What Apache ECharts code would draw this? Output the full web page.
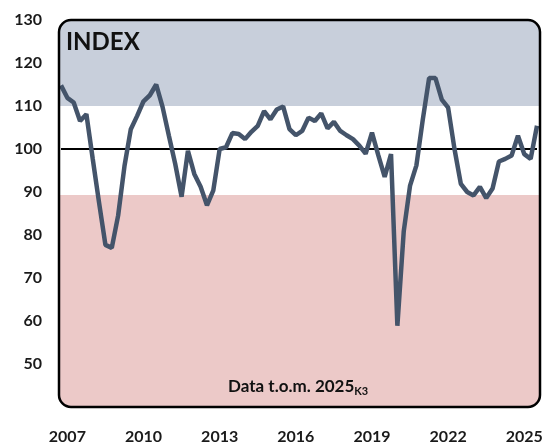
<!DOCTYPE html>
<html>
<head>
<meta charset="utf-8">
<script src="https://cdn.jsdelivr.net/npm/echarts@6/dist/echarts.min.js"></script>
<style>
  html, body { margin: 0; padding: 0; background: #fff; }
  #chart { width: 548px; height: 445px; }
</style>
</head>
<body>
<div id="chart"></div>
<script>
// kvartal 2006K4 .. 2025K3
const quarters = []
for (let y = 2006; y <= 2025; y++) {
    for (let q = 1; q <= 4; q++) {
        if (y === 2006 && q < 4) continue
        if (y === 2025 && q > 3) continue
        quarters.push(y + 'K' + q)
    }
}

const indexValues = [
    114.8, 111.9, 110.8, 106.5, 108.1, 97.7, 87.5, 77.7, 77.0, 84.5,
    96.0, 104.6, 107.7, 111.1, 112.5, 115.0, 109.8, 103.1, 96.5, 88.9,
    99.6, 94.2, 91.2, 86.9, 90.4, 100.0, 100.4, 103.7, 103.5, 102.3,
    104.0, 105.4, 108.8, 106.9, 109.2, 109.9, 104.6, 103.2, 104.2, 107.3,
    106.5, 108.3, 104.8, 106.3, 104.2, 103.2, 102.3, 100.8, 98.9, 103.8,
    98.5, 93.5, 98.8, 58.9, 80.8, 91.5, 96.2, 106.8, 116.5, 116.5,
    111.5, 109.6, 100.0, 91.9, 90.0, 89.2, 91.2, 88.6, 90.8, 97.1,
    97.7, 98.5, 103.1, 98.8, 97.7, 105.4
]

const yTicks = [40, 50, 60, 70, 80, 90, 100, 110, 120, 130]
const labelYears = ['2007', '2010', '2013', '2016', '2019', '2022', '2025']

// zoner
const highLimit = 110
const lowLimit = 89.3

const font = 'Lato, "Open Sans", sans-serif'
const chart = echarts.init(document.getElementById('chart'))

chart.setOption({
    animation: false,
    grid: { left: 61, right: 11, top: 20, bottom: 35 },
    title: [{
        text: 'INDEX',
        left: 66,
        top: 30,
        padding: 0,
        textStyle: { fontFamily: font, fontSize: 24, fontWeight: 'bold', color: '#111' }
    }, {
        text: '{a|Data t.o.m. 2025}{b|K3}',
        left: 228,
        top: 377,
        padding: 0,
        textStyle: {
            rich: {
                a: { fontFamily: font, fontSize: 17, fontWeight: 'bold', color: '#111' },
                b: { fontFamily: font, fontSize: 11, fontWeight: 'bold', color: '#111', padding: [9, 0, 0, 0] }
            }
        }
    }],
    xAxis: {
        type: 'category',
        data: quarters,
        boundaryGap: false,
        axisLine: { show: false },
        axisTick: { show: false },
        axisLabel: {
            interval: (idx, val) => val.endsWith('K1') && labelYears.includes(val.slice(0, 4)),
            formatter: val => val.slice(0, 4),
            margin: 22,
            fontFamily: font,
            fontSize: 16,
            fontWeight: 'bold',
            color: '#1a1a1a'
        }
    },
    yAxis: {
        type: 'value',
        min: yTicks[0],
        max: yTicks[yTicks.length - 1],
        interval: 10,
        axisLine: { show: false },
        axisTick: { show: false },
        splitLine: { show: false },
        axisLabel: {
            showMinLabel: false,
            margin: 19,
            fontFamily: font,
            fontSize: 16,
            fontWeight: 'bold',
            color: '#1a1a1a'
        }
    },
    series: [{
        type: 'line',
        data: indexValues,
        symbol: 'none',
        z: 5,
        lineStyle: { color: '#44546a', width: 4.5 },
        markLine: {
            silent: true,
            symbol: 'none',
            label: { show: false },
            lineStyle: { color: '#000', width: 2, type: 'solid' },
            data: [{ yAxis: 100 }]
        }
    }]
})

// rundad ram och zoner, placerade via axlarna
const topLeft = chart.convertToPixel({ gridIndex: 0 }, [0, yTicks[yTicks.length - 1]])
const botRight = chart.convertToPixel({ gridIndex: 0 }, [quarters.length - 1, yTicks[0]])
const span = yTicks[yTicks.length - 1] - yTicks[0]
const o1 = (yTicks[yTicks.length - 1] - highLimit) / span
const o2 = (yTicks[yTicks.length - 1] - lowLimit) / span
const box = {
    x: topLeft[0] - 2,
    y: topLeft[1],
    width: botRight[0] - topLeft[0] + 5,
    height: botRight[1] - topLeft[1],
    r: 12
}

chart.setOption({
    graphic: [{
        type: 'rect',
        z: -10,
        silent: true,
        shape: box,
        style: {
            fill: new echarts.graphic.LinearGradient(0, 0, 0, 1, [
                { offset: 0, color: '#c8cfdb' },
                { offset: o1, color: '#c8cfdb' },
                { offset: o1, color: '#ffffff' },
                { offset: o2, color: '#ffffff' },
                { offset: o2, color: '#ecc9c8' },
                { offset: 1, color: '#ecc9c8' }
            ])
        }
    }, {
        type: 'rect',
        z: 50,
        silent: true,
        shape: box,
        style: { fill: 'none', stroke: '#000', lineWidth: 2.5 }
    }]
})
</script>
</body>
</html>
